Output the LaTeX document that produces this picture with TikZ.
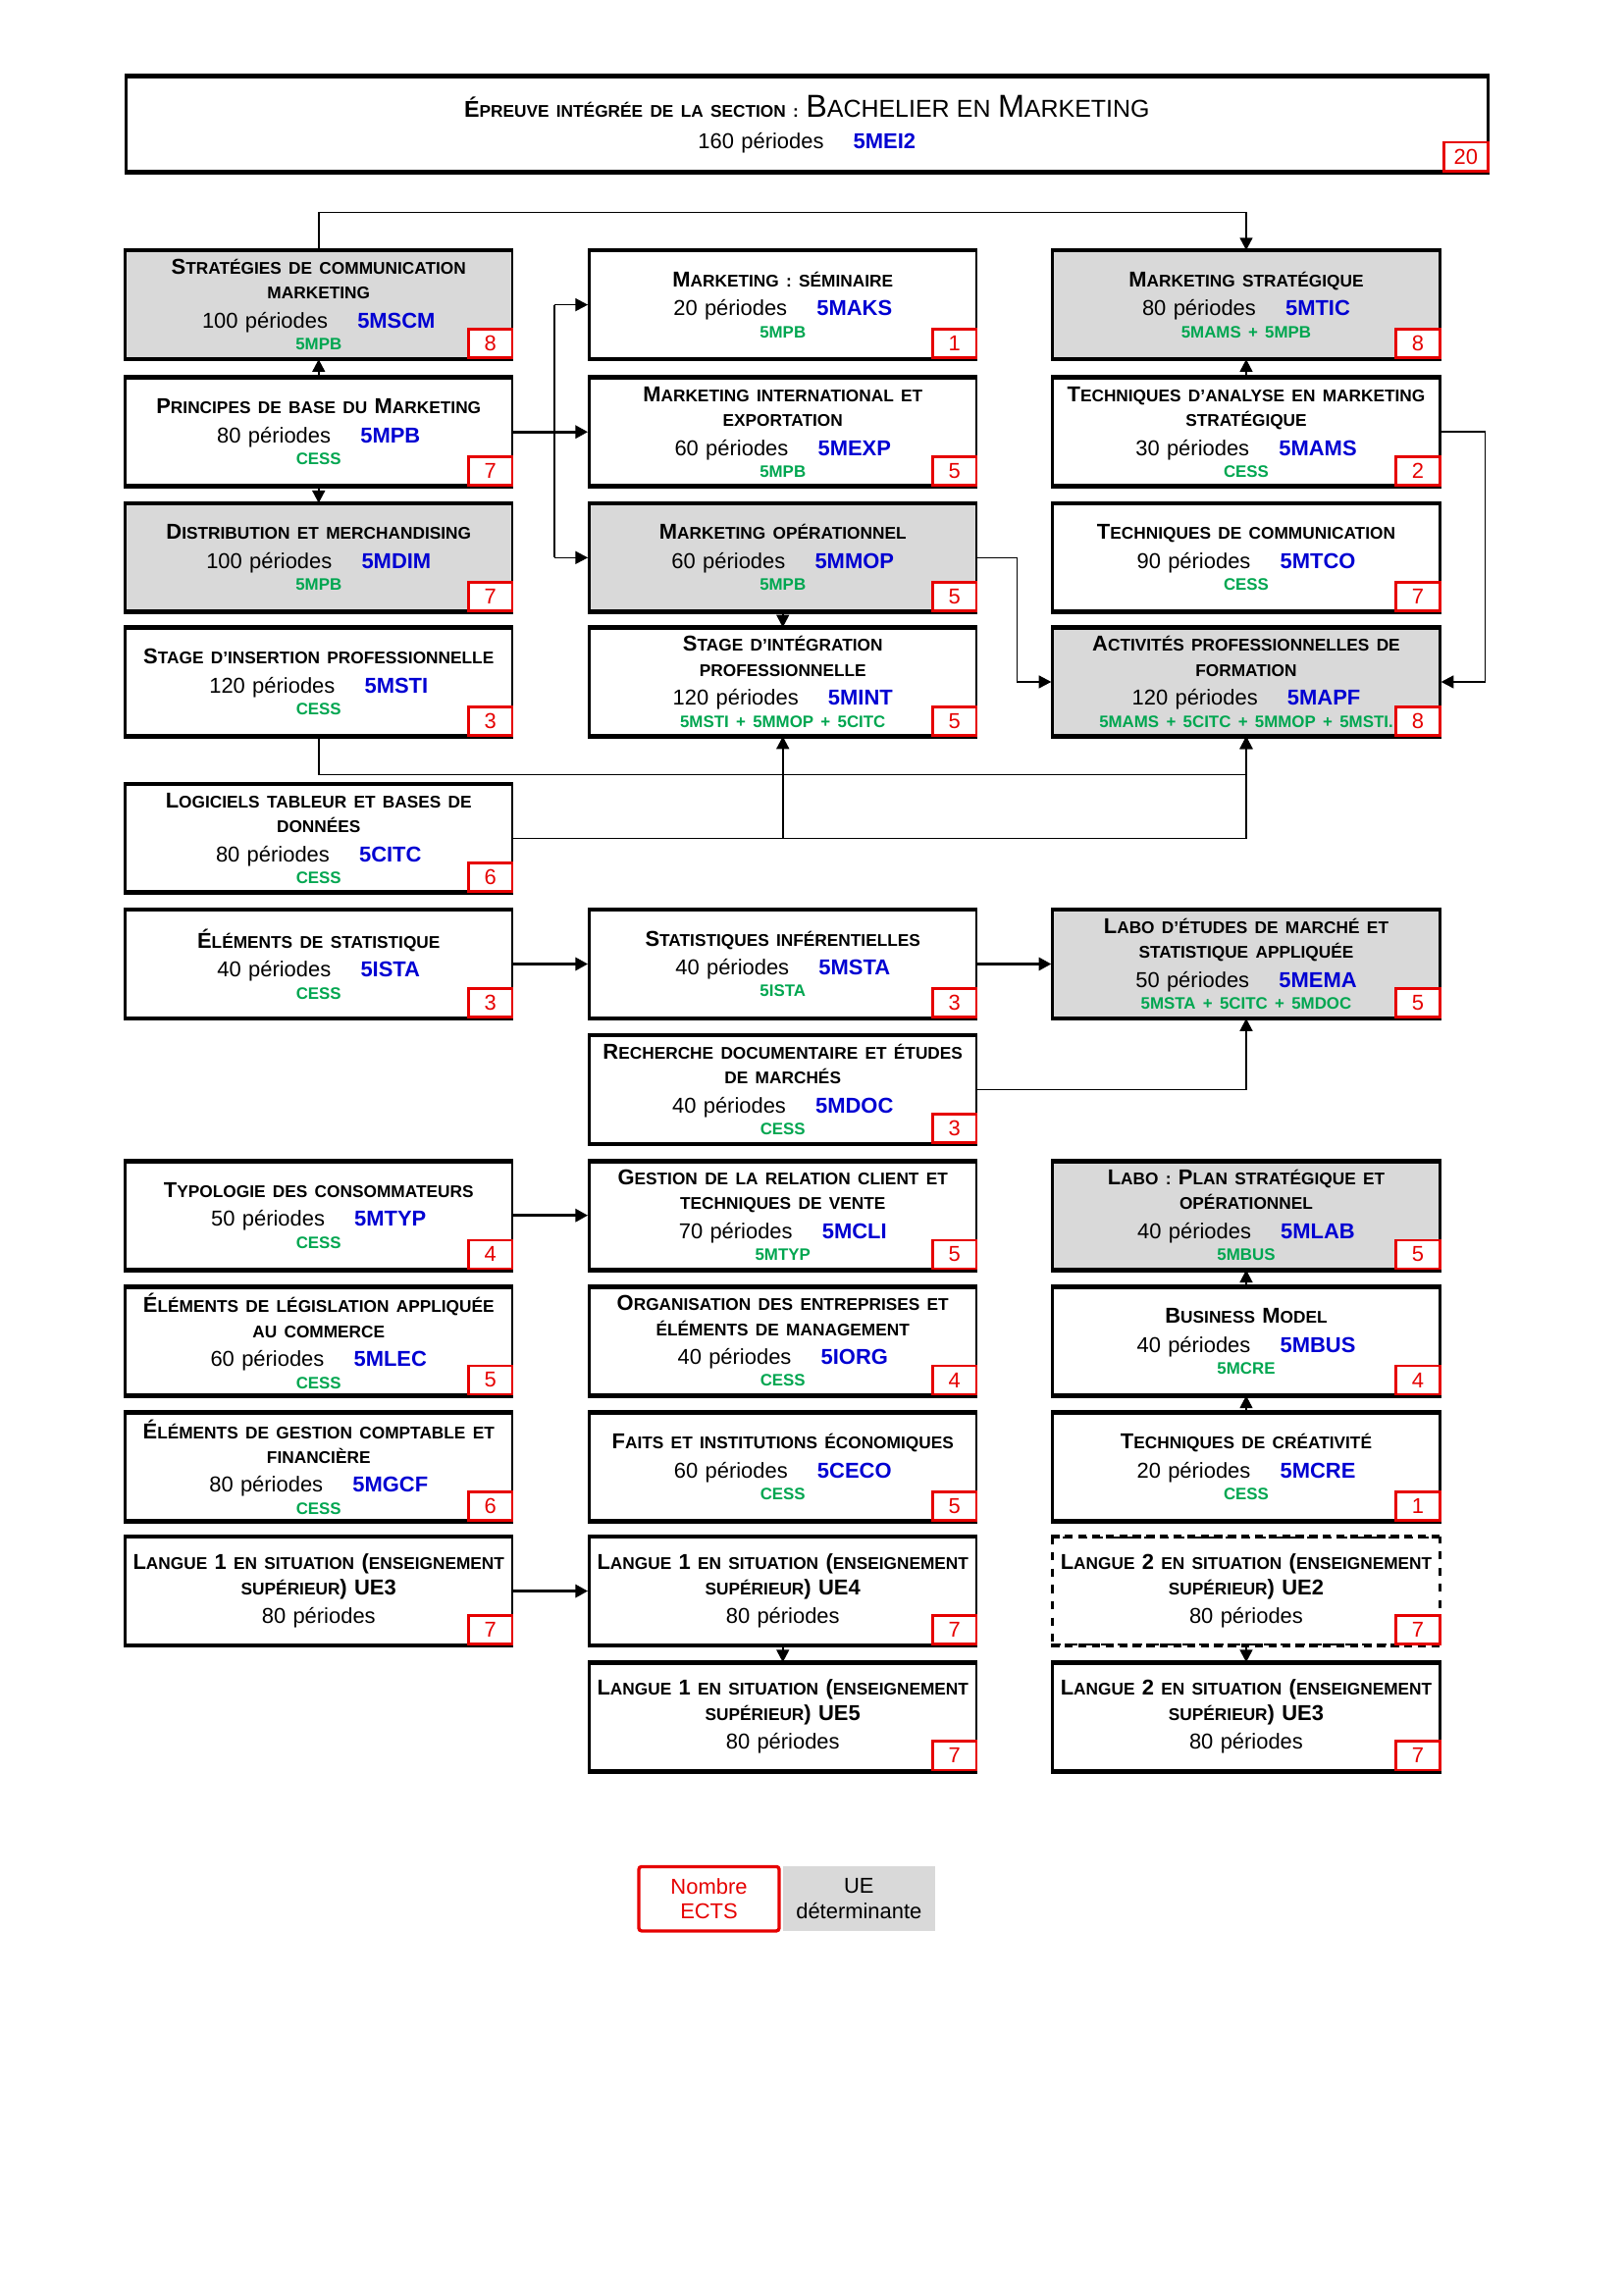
\documentclass[tikz,border=0pt]{standalone}
\usepackage{fontspec}
\setmainfont{Liberation Sans}
\usetikzlibrary{arrows.meta,positioning}
\tikzset{>={Triangle[length=4.6pt,width=4.7pt]}}
\setlength\parindent{0pt}
\setlength\parskip{0pt}

\definecolor{uegray}{RGB}{217,217,217}
\definecolor{ueblue}{RGB}{0,0,210}
\definecolor{uegreen}{RGB}{0,166,80}
\definecolor{uered}{RGB}{230,0,0}

% titres en petites capitales
\newcommand\ttl{\fontsize{6.24}{9.12}\selectfont\bfseries}
\newcommand\Ca[1]{{\fontsize{7.93}{9.12}\selectfont #1}}
\newcommand\cod[1]{\hspace{10.9pt}{\bfseries\color{ueblue}#1}}
\newcommand\pre[1]{{\fontsize{6.1}{8.03}\selectfont\bfseries\color{uegreen}#1}}

\begin{document}
\begin{tikzpicture}[x=0.018919cm, y=-0.018919cm,
  ue/.style={draw, line width=0.9pt, fill=white, minimum width=5.014cm, minimum height=1.381cm,
    text width=5.014cm, inner sep=0pt, align=center, font=\fontsize{7.93}{8.03}\selectfont},
  det/.style={ue, fill=uegray},
  ects/.style={draw=uered, line width=1pt, fill=white, text=uered, anchor=south east,
    minimum width=0.568cm, minimum height=0.369cm, inner sep=0pt, font=\fontsize{7.93}{9}\selectfont},
  lien/.style={line width=0.55pt},
  gros/.style={line width=1.1pt}]
\useasboundingbox (0,0) rectangle (1110.3,1570.1);

% epreuve integree
\node[ue, minimum width=17.63cm, text width=17.63cm, minimum height=1.211cm] (mei) at (552,85)
  {{\fontsize{6.24}{11.8}\selectfont\bfseries{\fontsize{8.42}{11.8}\selectfont É}PREUVE INTÉGRÉE DE LA SECTION : {\mdseries\fontsize{9.02}{11.8}\selectfont{\fontsize{11.7}{11.8}\selectfont B}ACHELIER EN {\fontsize{11.7}{11.8}\selectfont M}ARKETING}\par}\vspace{3.77pt}160 périodes\cod{5MEI2}};

% rangee 1
\node[det] (scm) at (218,208.5) {{\ttl\Ca{S}TRATÉGIES DE COMMUNICATION\par MARKETING\par}\vspace{2.68pt}100 périodes\cod{5MSCM}\par\pre{5MPB}};
\node[ue] (maks) at (535.5,208.5) {{\ttl\Ca{M}ARKETING : SÉMINAIRE\par}\vspace{2.68pt}20 périodes\cod{5MAKS}\par\pre{5MPB}};
\node[det] (mtic) at (852.5,208.5) {{\ttl\Ca{M}ARKETING STRATÉGIQUE\par}\vspace{2.68pt}80 périodes\cod{5MTIC}\par\pre{5MAMS + 5MPB}};
% rangee 2
\node[ue] (mpb) at (218,295.5) {{\ttl\Ca{P}RINCIPES DE BASE DU \Ca{M}ARKETING\par}\vspace{2.68pt}80 périodes\cod{5MPB}\par\pre{CESS}};
\node[ue] (mexp) at (535.5,295.5) {{\ttl\Ca{M}ARKETING INTERNATIONAL ET\par EXPORTATION\par}\vspace{2.68pt}60 périodes\cod{5MEXP}\par\pre{5MPB}};
\node[ue] (mams) at (852.5,295.5) {{\ttl\Ca{T}ECHNIQUES D'ANALYSE EN MARKETING\par STRATÉGIQUE\par}\vspace{2.68pt}30 périodes\cod{5MAMS}\par\pre{CESS}};
% rangee 3
\node[det] (mdim) at (218,381.5) {{\ttl\Ca{D}ISTRIBUTION ET MERCHANDISING\par}\vspace{2.68pt}100 périodes\cod{5MDIM}\par\pre{5MPB}};
\node[det] (mmop) at (535.5,381.5) {{\ttl\Ca{M}ARKETING OPÉRATIONNEL\par}\vspace{2.68pt}60 périodes\cod{5MMOP}\par\pre{5MPB}};
\node[ue] (mtco) at (852.5,381.5) {{\ttl\Ca{T}ECHNIQUES DE COMMUNICATION\par}\vspace{2.68pt}90 périodes\cod{5MTCO}\par\pre{CESS}};
% rangee 4
\node[ue] (msti) at (218,466.5) {{\ttl\Ca{S}TAGE D'INSERTION PROFESSIONNELLE\par}\vspace{2.68pt}120 périodes\cod{5MSTI}\par\pre{CESS}};
\node[ue] (mint) at (535.5,466.5) {{\ttl\Ca{S}TAGE D'INTÉGRATION\par PROFESSIONNELLE\par}\vspace{2.68pt}120 périodes\cod{5MINT}\par\pre{5MSTI + 5MMOP + 5CITC}};
\node[det] (mapf) at (852.5,466.5) {{\ttl\Ca{A}CTIVITÉS PROFESSIONNELLES DE\par FORMATION\par}\vspace{2.68pt}120 périodes\cod{5MAPF}\par\pre{5MAMS + 5CITC + 5MMOP + 5MSTI.}};
% rangee 5
\node[ue] (citc) at (218,573.5) {{\ttl\Ca{L}OGICIELS TABLEUR ET BASES DE\par DONNÉES\par}\vspace{2.68pt}80 périodes\cod{5CITC}\par\pre{CESS}};
% rangee 6
\node[ue] (ista) at (218,659.5) {{\ttl\Ca{É}LÉMENTS DE STATISTIQUE\par}\vspace{2.68pt}40 périodes\cod{5ISTA}\par\pre{CESS}};
\node[ue] (msta) at (535.5,659.5) {{\ttl\Ca{S}TATISTIQUES INFÉRENTIELLES\par}\vspace{2.68pt}40 périodes\cod{5MSTA}\par\pre{5ISTA}};
\node[det] (mema) at (852.5,659.5) {{\ttl\Ca{L}ABO D'ÉTUDES DE MARCHÉ ET\par STATISTIQUE APPLIQUÉE\par}\vspace{2.68pt}50 périodes\cod{5MEMA}\par\pre{5MSTA + 5CITC + 5MDOC}};
% rangee 7
\node[ue] (mdoc) at (535.5,745.5) {{\ttl\Ca{R}ECHERCHE DOCUMENTAIRE ET ÉTUDES\par DE MARCHÉS\par}\vspace{2.68pt}40 périodes\cod{5MDOC}\par\pre{CESS}};
% rangee 8
\node[ue] (mtyp) at (218,831.5) {{\ttl\Ca{T}YPOLOGIE DES CONSOMMATEURS\par}\vspace{2.68pt}50 périodes\cod{5MTYP}\par\pre{CESS}};
\node[ue] (mcli) at (535.5,831.5) {{\ttl\Ca{G}ESTION DE LA RELATION CLIENT ET\par TECHNIQUES DE VENTE\par}\vspace{2.68pt}70 périodes\cod{5MCLI}\par\pre{5MTYP}};
\node[det] (mlab) at (852.5,831.5) {{\ttl\Ca{L}ABO : \Ca{P}LAN STRATÉGIQUE ET\par OPÉRATIONNEL\par}\vspace{2.68pt}40 périodes\cod{5MLAB}\par\pre{5MBUS}};
% rangee 9
\node[ue] (mlec) at (218,917.5) {{\ttl\Ca{É}LÉMENTS DE LÉGISLATION APPLIQUÉE\par AU COMMERCE\par}\vspace{2.68pt}60 périodes\cod{5MLEC}\par\pre{CESS}};
\node[ue] (iorg) at (535.5,917.5) {{\ttl\Ca{O}RGANISATION DES ENTREPRISES ET\par ÉLÉMENTS DE MANAGEMENT\par}\vspace{2.68pt}40 périodes\cod{5IORG}\par\pre{CESS}};
\node[ue] (mbus) at (852.5,917.5) {{\ttl\Ca{B}USINESS \Ca{M}ODEL\par}\vspace{2.68pt}40 périodes\cod{5MBUS}\par\pre{5MCRE}};
% rangee 10
\node[ue] (mgcf) at (218,1003.5) {{\ttl\Ca{É}LÉMENTS DE GESTION COMPTABLE ET\par FINANCIÈRE\par}\vspace{2.68pt}80 périodes\cod{5MGCF}\par\pre{CESS}};
\node[ue] (ceco) at (535.5,1003.5) {{\ttl\Ca{F}AITS ET INSTITUTIONS ÉCONOMIQUES\par}\vspace{2.68pt}60 périodes\cod{5CECO}\par\pre{CESS}};
\node[ue] (mcre) at (852.5,1003.5) {{\ttl\Ca{T}ECHNIQUES DE CRÉATIVITÉ\par}\vspace{2.68pt}20 périodes\cod{5MCRE}\par\pre{CESS}};
% langues
\node[ue] (l1ue3) at (218,1088.5) {{\ttl\Ca{L}ANGUE \Ca{1} EN SITUATION \Ca{(}ENSEIGNEMENT\par SUPÉRIEUR\Ca{) UE3}\par}\vspace{2.68pt}80 périodes};
\node[ue] (l1ue4) at (535.5,1088.5) {{\ttl\Ca{L}ANGUE \Ca{1} EN SITUATION \Ca{(}ENSEIGNEMENT\par SUPÉRIEUR\Ca{) UE4}\par}\vspace{2.68pt}80 périodes};
\node[ue, dashed] (l2ue2) at (852.5,1088.5) {{\ttl\Ca{L}ANGUE \Ca{2} EN SITUATION \Ca{(}ENSEIGNEMENT\par SUPÉRIEUR\Ca{) UE2}\par}\vspace{2.68pt}80 périodes};
\node[ue] (l1ue5) at (535.5,1174.5) {{\ttl\Ca{L}ANGUE \Ca{1} EN SITUATION \Ca{(}ENSEIGNEMENT\par SUPÉRIEUR\Ca{) UE5}\par}\vspace{2.68pt}80 périodes};
\node[ue] (l2ue3) at (852.5,1174.5) {{\ttl\Ca{L}ANGUE \Ca{2} EN SITUATION \Ca{(}ENSEIGNEMENT\par SUPÉRIEUR\Ca{) UE3}\par}\vspace{2.68pt}80 périodes};

% bords epais et ECTS
\foreach \n/\e in {mei/20, scm/8, maks/1, mtic/8, mpb/7, mexp/5, mams/2, mdim/7, mmop/5, mtco/7,
    msti/3, mint/5, mapf/8, citc/6, ista/3, msta/3, mema/5, mdoc/3, mtyp/4, mcli/5, mlab/5,
    mlec/5, iorg/4, mbus/4, mgcf/6, ceco/5, mcre/1, l1ue3/7, l1ue4/7, l1ue5/7, l2ue3/7}{
  \draw[line width=1.6pt] (\n.north west) -- (\n.north east) (\n.south west) -- (\n.south east);
  \node[ects] at (\n.south east) {\e};
}
\draw[line width=1.6pt, dash pattern=on 3pt off 2pt] (l2ue2.north west) -- (l2ue2.north east) (l2ue2.south west) -- (l2ue2.south east);
\node[ects] at (l2ue2.south east) {7};

% liens
\draw[lien,->] (scm.north) -- ++(0,-26) -| (mtic.north);
\draw[lien,->] (mpb.north) -- (scm.south);
\draw[lien,->] (mpb.south) -- (mdim.north);
\draw[gros] (mpb.east) -- ++(28,0) coordinate (j1);
\draw[gros,->] (j1) -- (mexp.west);
\draw[lien] (j1 |- maks.west) -- (j1 |- mmop.west);
\draw[lien,->] (j1 |- maks.west) -- (maks.west);
\draw[lien,->] (j1 |- mmop.west) -- (mmop.west);
\draw[lien,->] (mams.north) -- (mtic.south);
\draw[lien,->] (mams.east) -- ++(30,0) |- (mapf.east);
\draw[lien,->] (mmop.east) -- ++(27,0) |- (mapf.west);
\draw[lien,->] (mmop.south) -- (mint.north);
\draw[lien,->] (msti.south) -- ++(0,26) -| (mapf.south);
\draw[lien,->] (citc.east) -| (mapf.south);
\draw[lien,->] (citc.east -| mint.south) -- (mint.south);
\draw[gros,->] (ista.east) -- (msta.west);
\draw[gros,->] (msta.east) -- (mema.west);
\draw[lien,->] (mdoc.east) -| (mema.south);
\draw[gros,->] (mtyp.east) -- (mcli.west);
\draw[lien,->] (mbus.north) -- (mlab.south);
\draw[lien,->] (mcre.north) -- (mbus.south);
\draw[gros,->] (l1ue3.east) -- (l1ue4.west);
\draw[lien,->] (l1ue4.south) -- (l1ue5.north);
\draw[lien,->] (l2ue2.south) -- (l2ue3.north);

% legende
\node[draw=uered, line width=1.2pt, rounded corners=1pt, minimum width=1.816cm, minimum height=0.832cm,
  text=uered, align=center, font=\fontsize{7.93}{9.12}\selectfont] (lgects) at (485,1299) {Nombre\\ECTS};
\node[fill=uegray, minimum width=1.968cm, minimum height=0.832cm, align=center,
  font=\fontsize{7.93}{9.12}\selectfont, right=0.6pt of lgects] (lgdet) {UE\\déterminante};
\end{tikzpicture}
\end{document}
